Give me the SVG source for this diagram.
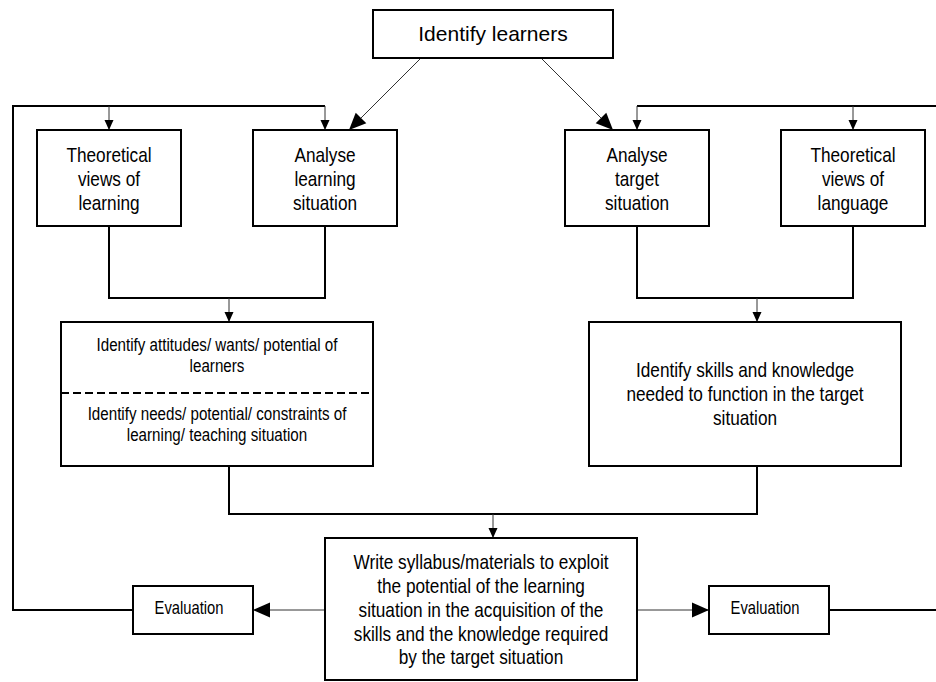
<svg xmlns="http://www.w3.org/2000/svg" width="936" height="682" viewBox="0 0 936 682">
  <style>
    .box { fill: #ffffff; stroke: #000000; stroke-width: 2; }
    .thick { fill: none; stroke: #000000; stroke-width: 2; }
    .thin { fill: none; stroke: #333333; stroke-width: 1; }
    .dash { fill: none; stroke: #000000; stroke-width: 2; stroke-dasharray: 8 4; }
    text { font-family: "Liberation Sans", Arial, sans-serif; fill: #000000; text-anchor: middle; }
    .wide { font-size: 21px; }
    .t21 { font-size: 21px; }
    .t185 { font-size: 18.5px; }
    .t18 { font-size: 18px; }
  </style>
  <defs>
    <marker id="arrowSmall" markerUnits="userSpaceOnUse" markerWidth="10" markerHeight="10" refX="10" refY="5" orient="auto">
      <path d="M0,0.5 L10,5 L0,9.5 Z" fill="#000000"/>
    </marker>
    <marker id="arrowLarge" markerUnits="userSpaceOnUse" markerWidth="17" markerHeight="16" refX="17" refY="8" orient="auto">
      <path d="M0,0.5 L17,8 L0,15.5 Z" fill="#000000"/>
    </marker>
  </defs>

  <!-- connectors -->
  <g id="connectors">
    <!-- top diagonals from the start node -->
    <line class="thin" x1="421" y1="58" x2="349" y2="130" marker-end="url(#arrowLarge)"/>
    <line class="thin" x1="541" y1="58" x2="613" y2="130" marker-end="url(#arrowLarge)"/>

    <!-- left feedback loop -->
    <polyline class="thick" points="133,610 13,610 13,106 325,106"/>
    <line class="thin" x1="109" y1="106" x2="109" y2="130" marker-end="url(#arrowSmall)"/>
    <line class="thin" x1="325" y1="106" x2="325" y2="130" marker-end="url(#arrowSmall)"/>

    <!-- right feedback loop -->
    <polyline class="thick" points="829,610 936,610"/>
    <polyline class="thick" points="637,106 936,106"/>
    <line class="thin" x1="637" y1="106" x2="637" y2="130" marker-end="url(#arrowSmall)"/>
    <line class="thin" x1="853" y1="106" x2="853" y2="130" marker-end="url(#arrowSmall)"/>

    <!-- merge of the upper left pair -->
    <polyline class="thick" points="109,226 109,298 325,298 325,226"/>
    <line class="thin" x1="229" y1="298" x2="229" y2="322" marker-end="url(#arrowSmall)"/>

    <!-- merge of the upper right pair -->
    <polyline class="thick" points="637,226 637,298 853,298 853,226"/>
    <line class="thin" x1="757" y1="298" x2="757" y2="322" marker-end="url(#arrowSmall)"/>

    <!-- merge into the syllabus node -->
    <polyline class="thick" points="229,466 229,514 757,514 757,466"/>
    <line class="thin" x1="493" y1="514" x2="493" y2="538" marker-end="url(#arrowSmall)"/>

    <!-- syllabus to evaluations -->
    <line class="thin" x1="325" y1="610" x2="253" y2="610" marker-end="url(#arrowLarge)"/>
    <line class="thin" x1="637" y1="610" x2="709" y2="610" marker-end="url(#arrowLarge)"/>
  </g>

  <!-- nodes: condensed labels are drawn with a horizontal squeeze -->
  <g id="identify-learners">
    <rect class="box" x="373" y="10" width="240" height="48"/>
    <text class="wide" x="493" y="41">Identify learners</text>
  </g>

  <g id="views-of-learning">
    <rect class="box" x="37" y="130" width="144" height="96"/>
    <g transform="translate(109 0) scale(0.82 1)">
      <text class="t21" x="0" y="162">Theoretical</text>
      <text class="t21" x="0" y="186">views of</text>
      <text class="t21" x="0" y="210">learning</text>
    </g>
  </g>

  <g id="learning-situation">
    <rect class="box" x="253" y="130" width="144" height="96"/>
    <g transform="translate(325 0) scale(0.82 1)">
      <text class="t21" x="0" y="162">Analyse</text>
      <text class="t21" x="0" y="186">learning</text>
      <text class="t21" x="0" y="210">situation</text>
    </g>
  </g>

  <g id="target-situation">
    <rect class="box" x="565" y="130" width="144" height="96"/>
    <g transform="translate(637 0) scale(0.82 1)">
      <text class="t21" x="0" y="162">Analyse</text>
      <text class="t21" x="0" y="186">target</text>
      <text class="t21" x="0" y="210">situation</text>
    </g>
  </g>

  <g id="views-of-language">
    <rect class="box" x="781" y="130" width="144" height="96"/>
    <g transform="translate(853 0) scale(0.82 1)">
      <text class="t21" x="0" y="162">Theoretical</text>
      <text class="t21" x="0" y="186">views of</text>
      <text class="t21" x="0" y="210">language</text>
    </g>
  </g>

  <g id="learner-needs">
    <rect class="box" x="61" y="322" width="312" height="144"/>
    <line class="dash" x1="61" y1="393" x2="373" y2="393"/>
    <g transform="translate(217 0) scale(0.82 1)">
      <text class="t185" x="0" y="351">Identify attitudes/ wants/ potential of</text>
      <text class="t185" x="0" y="372">learners</text>
      <text class="t185" x="0" y="420">Identify needs/ potential/ constraints of</text>
      <text class="t185" x="0" y="441">learning/ teaching situation</text>
    </g>
  </g>

  <g id="skills-knowledge">
    <rect class="box" x="589" y="322" width="312" height="144"/>
    <g transform="translate(745 0) scale(0.82 1)">
      <text class="t21" x="0" y="377">Identify skills and knowledge</text>
      <text class="t21" x="0" y="401">needed to function in the target</text>
      <text class="t21" x="0" y="425">situation</text>
    </g>
  </g>

  <g id="write-syllabus">
    <rect class="box" x="325" y="538" width="312" height="142"/>
    <g transform="translate(481 0) scale(0.82 1)">
      <text class="t21" x="0" y="569">Write syllabus/materials to exploit</text>
      <text class="t21" x="0" y="593">the potential of the learning</text>
      <text class="t21" x="0" y="617">situation in the acquisition of the</text>
      <text class="t21" x="0" y="641">skills and the knowledge required</text>
      <text class="t21" x="0" y="664">by the target situation</text>
    </g>
  </g>

  <g id="evaluation-left">
    <rect class="box" x="133" y="586" width="120" height="48"/>
    <g transform="translate(189 0) scale(0.82 1)">
      <text class="t18" x="0" y="614">Evaluation</text>
    </g>
  </g>

  <g id="evaluation-right">
    <rect class="box" x="709" y="586" width="120" height="48"/>
    <g transform="translate(765 0) scale(0.82 1)">
      <text class="t18" x="0" y="614">Evaluation</text>
    </g>
  </g>
</svg>
